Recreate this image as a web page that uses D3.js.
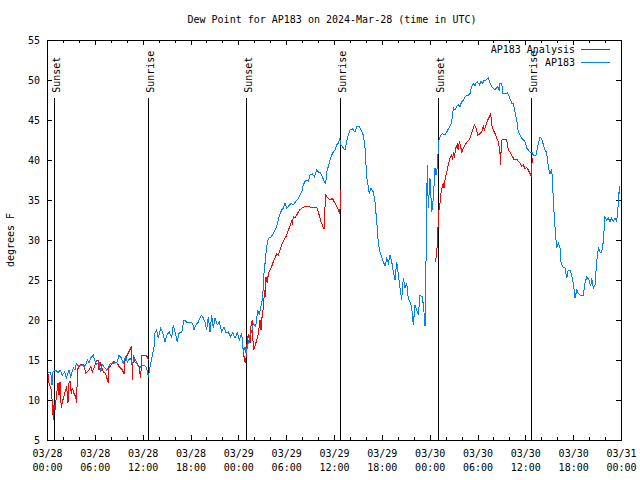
<!DOCTYPE html>
<html><head><meta charset="utf-8">
<script src="https://cdn.jsdelivr.net/npm/d3@7"></script>
<style>
body{margin:0;background:#fff}
svg{display:block}
text{font-family:"DejaVu Sans Mono","Liberation Mono",monospace;font-size:10px;fill:#000}
</style>
</head><body>
<svg id="c" width="640" height="480"></svg>
<script>
const titleText = "Dew Point for AP183 on 2024-Mar-28 (time in UTC)";
const yLabelText = "degrees F";
const seriesNames = ["AP183 Analysis", "AP183"];
const seriesColors = ["#ff0000", "#0080ff"];
const startISO = "2024-03-28T00:00:00Z";
const endISO = "2024-03-31T00:00:00Z";
const yTicks = [5, 10, 15, 20, 25, 30, 35, 40, 45, 50, 55];
const xMajorHours = [0, 6, 12, 18, 24, 30, 36, 42, 48, 54, 60, 66, 72];
const sunNames = ["Sunset", "Sunrise", "Sunset", "Sunrise", "Sunset", "Sunrise"];
const sunHours = [0.88, 12.71, 25.0, 36.79, 49.08, 60.74];

// AP183 observations (hours since 03/28 00:00 UTC, deg F)
const obsHours = [0.13,0.46,0.63,0.75,1.09,1.38,1.63,1.92,2.22,2.42,2.76,2.97,3.30,3.51,3.68,3.93,4.43,4.73,5.06,5.27,5.48,5.81,5.98,6.23,6.52,6.73,6.94,7.28,7.49,7.69,7.99,8.40,8.82,9.03,9.32,9.57,9.87,10.07,10.41,10.70,11.00,11.33,11.75,12.17,12.51,12.71,12.92,13.21,13.42,13.55,13.76,13.96,14.26,14.51,14.80,15.02,15.34,15.64,15.84,16.06,16.34,16.60,16.90,17.19,17.52,17.94,18.28,18.44,18.69,18.98,19.19,19.41,19.61,19.82,20.03,20.23,20.45,20.66,20.86,21.07,21.36,21.61,21.91,22.20,22.45,22.74,23.04,23.29,23.58,23.87,24.12,24.42,24.62,24.84,24.96,25.25,25.46,25.68,25.88,26.18,26.43,26.63,26.84,27.06,27.22,27.35,27.56,27.76,28.10,28.39,28.60,28.81,29.01,29.23,29.44,29.64,29.85,30.07,30.27,30.61,30.90,31.20,31.52,31.74,31.95,32.15,32.36,32.58,32.78,32.99,33.28,33.53,33.83,34.03,34.24,34.53,34.78,34.96,35.09,35.29,35.50,35.71,35.91,36.13,36.34,36.54,36.72,36.88,37.17,37.38,37.59,37.79,38.01,38.30,38.63,38.85,39.14,39.39,39.68,39.89,40.10,40.30,40.43,40.64,40.93,41.14,41.36,41.56,41.77,41.98,42.19,42.40,42.61,42.81,43.03,43.24,43.44,43.65,43.87,44.07,44.28,44.49,44.69,44.91,45.12,45.32,45.53,45.75,45.95,46.16,46.37,46.57,46.79,47.08,47.25,47.42,47.50,47.63,47.70,47.83,48.04,48.26,48.46,48.67,48.80,49.01,49.08,49.21,49.39,49.64,49.92,50.14,50.34,50.55,50.76,50.97,51.18,51.39,51.59,51.81,52.02,52.22,52.43,52.65,52.85,53.06,53.27,53.47,53.69,53.81,53.98,54.23,54.44,54.65,54.85,55.07,55.36,55.57,55.78,55.98,56.20,56.49,56.74,56.82,57.04,57.16,57.45,57.74,57.99,58.29,58.49,58.71,58.92,59.12,59.33,59.55,59.75,59.96,60.17,60.37,60.59,60.80,61.00,61.34,61.63,61.84,62.05,62.26,62.47,62.68,62.80,62.97,63.09,63.31,63.38,63.63,63.81,63.93,64.13,64.35,64.47,64.64,64.98,65.19,65.39,65.61,65.82,66.02,66.23,66.45,66.65,66.86,67.27,67.49,67.70,67.99,68.20,68.33,68.53,68.74,68.95,69.16,69.37,69.58,69.78,69.99,70.21,70.41,70.62,70.83,71.03,71.25,71.46,71.67,71.79,71.87];
const obsValues = [13.5,13.5,11.9,13.5,13.75,13.4,13.75,13.1,13.5,12.75,13.75,12.9,14,13.75,14.6,14.25,14.4,14.1,15,14.6,15.25,15.6,15,14.5,14.75,13.5,14.4,14,13.75,14.1,14.6,14.6,14.75,15.6,15.25,14.6,15.4,14.75,15.25,14.6,15.25,14.4,14.1,14.4,14,12.9,14.1,15.6,16.6,18.4,18.75,17.75,19,18.4,17.25,18.1,18.5,17.75,19.4,18.5,17.25,18.5,18.5,20,19.75,19.75,19.6,18.75,19.4,19.75,20.25,20.6,20.25,19.75,18.75,20.4,18.5,20.6,19,20.25,19.4,19.75,18.5,19.1,18.4,18.5,17.9,18.4,17.75,18.4,17.5,18.4,16,16.6,15.9,17.1,18.1,18.5,19.6,19.2,21.25,20.6,21.7,22.9,25.9,27.1,29.2,30.2,30.4,30.8,31.25,31.7,32.5,33.3,33.75,34,34.6,34,34.2,34.6,34.4,34.8,35.2,35.6,36,36.9,37.3,37.5,37.3,38.1,38.3,37.9,38.75,38.5,38.5,37.9,37.3,37.1,38.5,39.2,40,40.6,41,41.25,41.9,42.1,42.7,41.9,41.5,41.25,42.3,43.1,43.75,43.9,43.5,44.2,44.2,43.75,43.1,41.5,37.9,36.7,35.8,36.5,36,34.8,32.3,29.6,28.5,27.9,27.3,26.7,27.7,27.1,28.1,27.3,26,25,27.3,25.6,24,22.5,25.2,24,24.6,22.7,22.3,21.5,19.4,21.9,21.25,20.6,23.1,22.9,21.5,19.2,24,34.4,39.4,34,37.7,33.5,35.2,39,38.1,39.4,41.9,42.7,43.1,43.3,43.1,43.5,43.9,44.2,44.75,46.5,46.25,46.7,46.9,46.7,47.3,47.5,47.9,48.1,48.1,48.3,49.2,49.6,49.2,49.6,49.8,49.4,49.8,49.6,50,50,50.3,49.6,49.2,49,48.75,49.2,48.75,49.6,49.6,48.3,48.3,48.4,47.9,47.1,47.1,46,45,43.5,43.1,42.7,42.5,42.3,41.5,41.25,41,41,40.6,40.6,42.1,42.9,42.7,41.9,41.25,40.9,39.8,38.75,38.3,38.9,37.7,32.9,30.4,29,29.6,29,27.3,26.7,26.5,25.2,26.25,26.25,25.6,24.6,22.7,23.75,23.3,23.1,23.1,24.6,25.4,25,24.2,25.2,24,24.4,27.3,29,28.5,28.5,29.8,32.9,32.5,32.75,32.3,32.75,32.3,32.75,32.3,34.6,36.7,35.8];

// AP183 Analysis (null = gap)
const anaHours = [0.13,0.25,0.54,0.66,0.79,0.88,1.00,1.22,1.38,1.51,1.63,1.79,2.04,2.35,2.47,2.63,2.76,2.89,3.05,3.17,3.39,3.60,3.73,3.80,4.01,4.23,4.43,4.64,4.85,5.27,5.48,5.68,5.90,6.11,6.23,6.44,6.52,6.74,7.06,7.36,7.69,7.78,8.19,8.40,8.82,9.03,9.45,9.66,9.78,9.95,10.16,10.41,10.62,10.70,10.83,11.00,11.25,11.54,11.75,11.88,12.38,12.58,12.71,
 18.0,
 24.62,24.75,24.92,25.05,25.25,25.46,25.59,25.75,25.88,26.09,26.30,26.51,26.72,26.84,27.01,27.18,27.26,27.35,27.47,27.64,27.76,27.97,28.19,28.39,28.60,28.81,29.01,29.23,29.44,29.64,29.85,30.07,30.27,30.48,30.70,30.77,30.90,31.11,31.32,31.52,31.74,32.15,32.58,33.12,33.83,34.03,34.37,34.66,34.78,34.87,34.96,35.29,35.50,35.79,36.13,36.46,36.72,36.88,
 42.0,
 48.73,48.89,48.97,49.08,49.17,49.30,49.42,49.59,49.71,49.80,49.92,50.14,50.34,50.55,50.76,50.89,50.97,51.09,51.27,51.47,51.59,51.72,51.89,52.02,52.22,52.43,52.65,52.97,53.19,53.40,53.60,53.81,54.03,54.31,54.52,54.73,54.85,55.07,55.28,55.48,55.66,55.78,55.98,56.20,56.41,56.61,56.82,56.86,57.04,57.24,57.66,57.87,58.08,58.29,58.62,58.92,59.12,59.33,59.55,59.75,59.96,60.17,60.37,60.59,60.75,60.87];
const anaValues = [13.3,12.1,11.25,9.8,7.5,9.4,8.75,10.8,12.1,10.6,12.3,9,10.2,11.25,11.7,9.6,12.1,12.3,10.8,11.5,10.8,10.4,9.6,13.75,14.2,14.4,14.5,14.4,13.3,13.75,14.2,13.5,14,14.6,15,15,13.75,14.6,13.5,13.3,12.1,14,14.6,14.8,14.6,14.2,13.75,13.3,14.8,15.4,15.8,16.3,16.75,12.5,15.6,14.8,14.6,14.2,12.7,15.6,15.6,15.4,15,
 null,
 16.5,15,14.6,16.7,18.3,17.1,19.2,20,16.25,16.7,17.5,18.3,20,18.75,20.8,21.7,23.75,22.9,25.4,24.6,25.8,26.25,26.7,27.3,27.7,28.3,28.1,28.75,29.4,29.8,30.2,30.6,31.25,31.7,32.5,31.9,32.9,32.75,33.1,33.5,33.8,34.1,34.2,34.1,34.1,33.5,32.3,31.5,31.5,34,35.6,35.2,35,35.2,34.6,34,33.3,36.25,
 null,
 27.3,28.5,29.6,32.5,33.75,34.6,35.8,36.7,37.1,36.5,37.5,38.5,39.4,40.2,40.6,40,41,40.2,41.5,41.9,41.25,42.3,41.7,40.9,41.5,41.9,42.2,42.5,43.1,43.75,44.4,44,43.1,43.3,43.5,44.2,43.75,44.4,45,45.4,45.8,44.4,43.75,43.3,42.7,42.3,41,39.4,42.5,42.6,42.5,41.25,41,40.6,40,40.1,39.8,39.6,39.2,39.4,38.9,39.1,38.75,38.3,37.9,40.2];

const svg = d3.select("#c");
const W = 640, H = 480;
const L = 47, R = 621, T = 40, B = 440;
const t0 = new Date(startISO), t1 = new Date(endISO);
const hToDate = h => new Date(t0.getTime() + h * 3600e3);

const x = d3.scaleUtc().domain([t0, t1]).range([L, R]);
const y = d3.scaleLinear().domain([5, 55]).range([B, T]);

svg.append("rect").attr("width", W).attr("height", H).attr("fill", "#fff");

// minor ticks (2 h) bottom & top
const minorHours = d3.range(0, 73, 2).filter(h => h % 6 !== 0);
const axB = d3.axisBottom(x).tickValues(minorHours.map(hToDate)).tickSizeInner(-3).tickSizeOuter(0).tickFormat("");
const axT = d3.axisTop(x).tickValues(minorHours.map(hToDate)).tickSizeInner(-3).tickSizeOuter(0).tickFormat("");
svg.append("g").attr("transform", `translate(0,${B})`).call(axB).call(g => g.select(".domain").remove());
svg.append("g").attr("transform", `translate(0,${T})`).call(axT).call(g => g.select(".domain").remove());

// major x ticks with two-line labels
const fmtD = d3.utcFormat("%m/%d"), fmtT = d3.utcFormat("%H:%M");
const gxB = svg.append("g").attr("transform", `translate(0,${B})`)
  .call(d3.axisBottom(x).tickValues(xMajorHours.map(hToDate)).tickSizeInner(-5).tickSizeOuter(0).tickFormat(""));
gxB.select(".domain").remove();
gxB.selectAll(".tick text").each(function(d) {
  const t = d3.select(this).attr("y", 10).attr("dy", null);
  t.append("tspan").attr("x", 0).attr("dy", "0.71em").text(fmtD(d));
  t.append("tspan").attr("x", 0).attr("dy", "14").text(fmtT(d));
});
const gxT = svg.append("g").attr("transform", `translate(0,${T})`)
  .call(d3.axisTop(x).tickValues(xMajorHours.map(hToDate)).tickSizeInner(-5).tickSizeOuter(0).tickFormat(""));
gxT.select(".domain").remove();

// y ticks left/right
const gyL = svg.append("g").attr("transform", `translate(${L},0)`)
  .call(d3.axisLeft(y).tickValues(yTicks).tickSizeInner(-5).tickSizeOuter(0).tickPadding(7).tickFormat(d3.format("d")));
gyL.select(".domain").remove();
const gyR = svg.append("g").attr("transform", `translate(${R},0)`)
  .call(d3.axisRight(y).tickValues(yTicks).tickSizeInner(-5).tickSizeOuter(0).tickFormat(""));
gyR.select(".domain").remove();
svg.selectAll(".tick line").attr("stroke", "#000").attr("shape-rendering", "crispEdges");
svg.selectAll(".tick text").attr("font-family", null).attr("font-size", null).attr("fill", "#000");

// sunrise / sunset lines
const sun = svg.append("g");
sunHours.forEach((h, i) => {
  const xx = Math.round(x(hToDate(h))) + 0.5;
  sun.append("line").attr("x1", xx).attr("x2", xx).attr("y1", y(47.75)).attr("y2", B)
    .attr("stroke", "#000").attr("stroke-width", 1).attr("shape-rendering", "crispEdges");
  sun.append("text").attr("transform", `translate(${xx + 5},${y(48.4)}) rotate(-90)`)
    .attr("text-anchor", "start").text(sunNames[i]);
});

// data lines
const line = d3.line().defined(d => d[1] != null).x(d => x(hToDate(d[0]))).y(d => y(d[1]));
const ana = anaHours.map((h, i) => [h, anaValues[i]]);
const obs = obsHours.map((h, i) => [h, obsValues[i]]);
svg.append("path").datum(ana).attr("d", line).attr("fill", "none").attr("stroke", seriesColors[0])
  .attr("stroke-width", 1).attr("shape-rendering", "crispEdges");
svg.append("path").datum(obs).attr("d", line).attr("fill", "none").attr("stroke", seriesColors[1])
  .attr("stroke-width", 1).attr("shape-rendering", "crispEdges");

// frame
svg.append("rect").attr("x", L + 0.5).attr("y", T + 0.5).attr("width", R - L).attr("height", B - T)
  .attr("fill", "none").attr("stroke", "#000").attr("shape-rendering", "crispEdges");

// title & labels
svg.append("text").attr("x", 332).attr("y", 23).attr("text-anchor", "middle").text(titleText);
svg.append("text").attr("transform", `translate(14,240) rotate(-90)`).attr("text-anchor", "middle").text(yLabelText);

// legend
const lg = svg.append("g");
seriesNames.forEach((n, i) => {
  const yy = 49.5 + i * 13;
  lg.append("text").attr("x", 575).attr("y", yy + 3.5).attr("text-anchor", "end").text(n);
  lg.append("line").attr("x1", 581).attr("x2", 610).attr("y1", yy).attr("y2", yy)
    .attr("stroke", seriesColors[i]).attr("stroke-width", 1).attr("shape-rendering", "crispEdges");
});
</script>
</body></html>
